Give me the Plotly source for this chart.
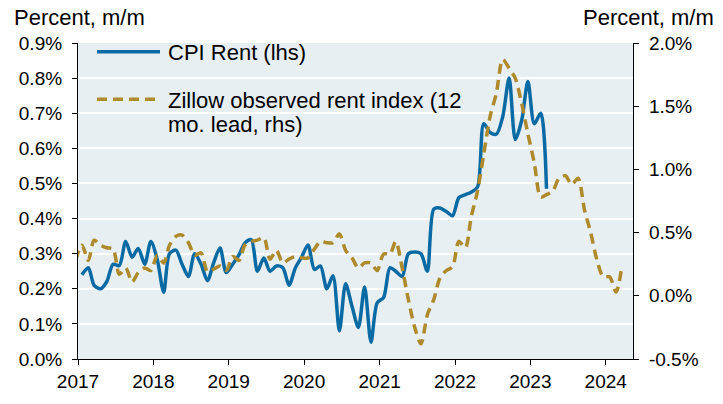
import pandas as pd
import plotly.graph_objects as go

# CPI Rent, m/m %, Jan 2017 - Mar 2023 (left axis)
cpi_rent = [0.24, 0.26, 0.21, 0.20, 0.22, 0.27, 0.266, 0.335, 0.29, 0.315, 0.27, 0.335,
            0.283, 0.19, 0.30, 0.31, 0.27, 0.235, 0.30, 0.27, 0.223, 0.274, 0.316, 0.246,
            0.27, 0.297, 0.33, 0.34, 0.25, 0.288, 0.25, 0.265, 0.26, 0.21, 0.26, 0.29,
            0.325, 0.255, 0.265, 0.20, 0.237, 0.08, 0.214, 0.15, 0.09, 0.205, 0.048, 0.16,
            0.175, 0.26, 0.25, 0.235, 0.30, 0.305, 0.30, 0.25, 0.427, 0.43, 0.42, 0.408,
            0.46, 0.468, 0.475, 0.49, 0.67, 0.645, 0.64, 0.69, 0.80, 0.625, 0.68, 0.79,
            0.67, 0.70, 0.485]

# Zillow observed rent index, 12 mo. lead, m/m %, Dec 2016 - Mar 2024 (right axis)
zillow = [0.28, 0.40, 0.28, 0.44, 0.40, 0.38, 0.37, 0.17, 0.22, 0.11, 0.185, 0.22, 0.20,
          0.32, 0.26, 0.40, 0.47, 0.48, 0.42, 0.32, 0.34, 0.19, 0.21, 0.235, 0.20,
          0.31, 0.28, 0.40, 0.43, 0.44, 0.46, 0.29, 0.36, 0.26, 0.29, 0.31, 0.30,
          0.30, 0.37, 0.43, 0.42, 0.42, 0.49, 0.36, 0.30, 0.22, 0.26, 0.26, 0.20,
          0.33, 0.33, 0.43, 0.22, -0.03, -0.25, -0.38, -0.15, -0.03, 0.14, 0.20, 0.23,
          0.43, 0.38, 0.62, 0.83, 1.12, 1.42, 1.60, 1.87, 1.80, 1.72, 1.52, 1.28,
          1.05, 0.78, 0.80, 0.83, 0.93, 0.95, 0.88, 0.93, 0.68, 0.50, 0.28, 0.15,
          0.15, 0.03, 0.24]

left_ticks = [0.0, 0.1, 0.2, 0.3, 0.4, 0.5, 0.6, 0.7, 0.8, 0.9]
right_ticks = [-0.5, 0.0, 0.5, 1.0, 1.5, 2.0]
year_ticks = [str(y) for y in range(2017, 2025)]

legend_cpi = "CPI Rent (lhs)"
legend_zillow = ["Zillow observed rent index (12", "mo. lead, rhs)"]
axis_title = "Percent, m/m"

BLUE = "#0A6BA4"
GOLD = "#AE8A2C"
BG = "#E7EFF3"
FONT = "Liberation Sans, Arial, sans-serif"

cpi_dates = pd.date_range("2017-01-01", periods=len(cpi_rent), freq="MS") + pd.Timedelta(days=19)
z_dates = pd.date_range("2016-12-01", periods=len(zillow), freq="MS") + pd.Timedelta(days=19)

fig = go.Figure()
fig.add_trace(go.Scatter(x=z_dates, y=zillow, mode="lines", yaxis="y2",
                         line=dict(color=GOLD, width=3.5, dash="10px,6px", shape="spline", smoothing=0.8),
                         name="Zillow", showlegend=False))
fig.add_trace(go.Scatter(x=cpi_dates, y=cpi_rent, mode="lines", yaxis="y",
                         line=dict(color=BLUE, width=3.5, shape="spline", smoothing=0.8),
                         name="CPI Rent", showlegend=False))

W, H = 723, 404
L, T = 78, 43
R = W - 633
B = H - 369
pw, ph = W - L - R, H - T - B

def px(x):
    return (x - L) / pw

def py(y):
    return (H - B - y) / ph

LEG_FS = 22
shapes = [
    dict(type="line", xref="paper", yref="paper", x0=px(97), x1=px(160), y0=py(52), y1=py(52),
         line=dict(color=BLUE, width=3.5)),
    dict(type="line", xref="paper", yref="paper", x0=px(97), x1=px(160), y0=py(101), y1=py(101),
         line=dict(color=GOLD, width=3.5, dash="10px,6px")),
]
annotations = [
    dict(text=legend_cpi, xref="paper", yref="paper", x=px(166), y=py(53), xanchor="left",
         yanchor="middle", showarrow=False, font=dict(size=LEG_FS, color="black", family=FONT)),
    dict(text=legend_zillow[0], xref="paper", yref="paper", x=px(166), y=py(102), xanchor="left",
         yanchor="middle", showarrow=False, font=dict(size=LEG_FS, color="black", family=FONT)),
    dict(text=legend_zillow[1], xref="paper", yref="paper", x=px(166), y=py(127), xanchor="left",
         yanchor="middle", showarrow=False, font=dict(size=LEG_FS, color="black", family=FONT)),
    dict(text=axis_title, xref="paper", yref="paper", x=px(12), y=py(17), xanchor="left",
         yanchor="middle", showarrow=False, font=dict(size=LEG_FS, color="black", family=FONT)),
    dict(text=axis_title, xref="paper", yref="paper", x=px(716), y=py(17), xanchor="right",
         yanchor="middle", showarrow=False, font=dict(size=LEG_FS, color="black", family=FONT)),
]

fig.update_layout(
    width=W, height=H,
    margin=dict(l=L, r=R, t=T, b=B, pad=0),
    paper_bgcolor="white", plot_bgcolor=BG,
    font=dict(family=FONT, size=19, color="black"),
    showlegend=False,
    shapes=shapes, annotations=annotations,
    xaxis=dict(type="date", range=["2017-01-01", "2024-05-12"],
               tickvals=[y + "-01-01" for y in year_ticks], ticktext=year_ticks,
               showgrid=False, showline=True, linecolor="black", linewidth=1.2,
               ticks="outside", ticklen=5, tickcolor="black", zeroline=False),
    yaxis=dict(range=[0, 0.9], tickvals=left_ticks, ticktext=[f"{v:.1f}%" for v in left_ticks],
               showgrid=True, gridcolor="white", gridwidth=2, showline=True, linecolor="black",
               linewidth=1.2, ticks="outside", ticklen=5, tickcolor="black", zeroline=False,
               ticklabelstandoff=6),
    yaxis2=dict(range=[-0.5, 2.0], tickvals=right_ticks, ticktext=[f"{v:.1f}%" for v in right_ticks],
                overlaying="y", side="right", showgrid=False, showline=True, linecolor="black",
                linewidth=1.2, ticks="outside", ticklen=5, tickcolor="black", zeroline=False,
                ticklabelstandoff=6),
)

fig.write_html("out.html", config={"displayModeBar": False},
               post_script="document.body.style.margin='0';")
